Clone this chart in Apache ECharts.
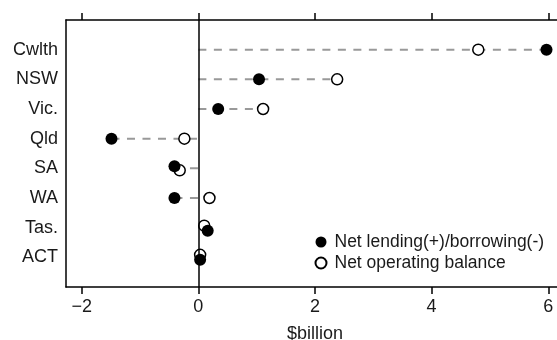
<!DOCTYPE html>
<html><head><meta charset="utf-8">
<script src="https://cdn.jsdelivr.net/npm/echarts@6/dist/echarts.min.js"></script>
<style>html,body{margin:0;padding:0;background:#fff}#c{width:557px;height:340px}</style>
</head><body><div id="c"></div>
<script>
// Jurisdictions, top to bottom
const regions = ['Cwlth', 'NSW', 'Vic.', 'Qld', 'SA', 'WA', 'Tas.', 'ACT'];
// $billion
const netLending = [5.97, 1.04, 0.34, -1.49, -0.41, -0.41, 0.16, 0.03];
const netOperating = [4.80, 2.38, 1.11, -0.24, -0.32, 0.19, 0.10, 0.03];
const xTicks = [-2, 0, 2, 4, 6];

const lendingName = 'Net lending(+)/borrowing(-)';
const operatingName = 'Net operating balance';

// small vertical nudges (px) so coinciding markers stay visible
const lendingNudge = [0, 0, 0, 0, -2, 0, 3, 2.5];
const operatingNudge = [0, 0, 0, 0, 2, 0, -2, -2.5];

const FONT = '"Liberation Sans", Arial, sans-serif';
const INK = '#1a1a1a';
const SIZE = 18;
const axisLineStyle = { color: '#000', width: 1.5 };

const connectors = regions.map((r, i) => [
  Math.min(0, netLending[i], netOperating[i]),
  Math.max(0, netLending[i], netOperating[i]),
  i + 1
]);

const chart = echarts.init(document.getElementById('c'), null, { renderer: 'canvas' });
chart.setOption({
  animation: false,
  backgroundColor: '#fff',
  textStyle: { fontFamily: FONT },
  grid: { left: 66, top: 20, width: 498, height: 267, containLabel: false, outerBoundsMode: 'none' },
  legend: {
    orient: 'vertical', left: 314.5, top: 233, icon: 'circle',
    itemWidth: 11, itemHeight: 11, itemGap: 3, padding: 0,
    data: [lendingName, operatingName],
    textStyle: { fontSize: 17.5, lineHeight: 18, color: INK, fontFamily: FONT, padding: [0, 0, 0, 3] }
  },
  xAxis: [{
    type: 'value', position: 'bottom', min: -2.27, max: 6.27,
    axisLine: { show: true, onZero: false, lineStyle: axisLineStyle },
    axisTick: { show: true, inside: false, length: 7, customValues: xTicks, lineStyle: axisLineStyle },
    axisLabel: {
      customValues: xTicks, fontSize: SIZE, color: INK, margin: 11, fontFamily: FONT,
      formatter: v => (v < 0 ? '\u2212' + Math.abs(v) : String(v))
    },
    splitLine: { show: false },
    name: '$billion', nameLocation: 'middle', nameGap: 38,
    nameTextStyle: { fontSize: SIZE, color: INK, fontFamily: FONT }
  }, {
    type: 'value', position: 'top', min: -2.27, max: 6.27,
    axisLine: { show: true, onZero: false, lineStyle: axisLineStyle },
    axisTick: { show: true, inside: false, length: 7, customValues: xTicks, lineStyle: axisLineStyle },
    axisLabel: { show: false },
    splitLine: { show: false }
  }],
  yAxis: {
    type: 'value', min: 0, max: 9, interval: 1, inverse: true,
    axisLine: { show: true, onZero: false, lineStyle: axisLineStyle },
    axisTick: { show: false },
    splitLine: { show: false },
    axisLabel: {
      fontSize: SIZE, color: INK, margin: 8, fontFamily: FONT,
      formatter: v => regions[v - 1] || ''
    }
  },
  series: [{
    type: 'custom',
    silent: true,
    data: connectors,
    encode: { x: [0, 1], y: 2 },
    renderItem: (params, api) => {
      const p1 = api.coord([api.value(0), api.value(2)]);
      const p2 = api.coord([api.value(1), api.value(2)]);
      return {
        type: 'line',
        shape: { x1: p1[0], y1: p1[1], x2: p2[0], y2: p2[1] },
        style: { stroke: '#999', lineWidth: 2, lineDash: [8, 7.5] }
      };
    },
    markLine: {
      silent: true, symbol: ['none', 'none'], label: { show: false },
      lineStyle: { color: '#000', width: 1.5, type: 'solid' },
      data: [{ xAxis: 0 }]
    },
    z: 1
  }, {
    name: operatingName,
    type: 'scatter',
    symbol: 'circle', symbolSize: 11,
    itemStyle: { color: '#fff', borderColor: '#000', borderWidth: 1.5, opacity: 1 },
    data: netOperating.map((v, i) => ({ value: [v, i + 1], symbolOffset: [0, operatingNudge[i]] })),
    z: 2
  }, {
    name: lendingName,
    type: 'scatter',
    symbol: 'circle', symbolSize: 12,
    itemStyle: { color: '#000', opacity: 1 },
    data: netLending.map((v, i) => ({ value: [v, i + 1], symbolOffset: [0, lendingNudge[i]] })),
    z: 3
  }]
});
</script>
</body></html>
